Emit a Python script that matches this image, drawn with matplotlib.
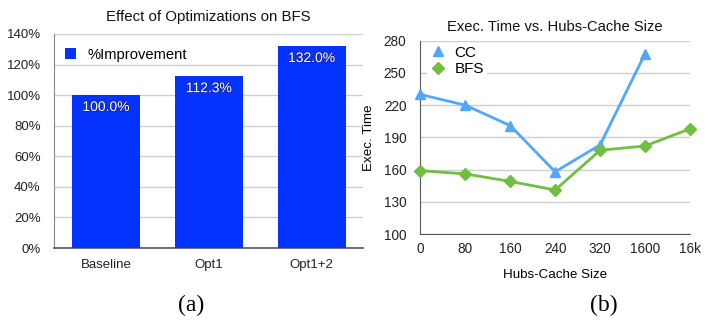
import matplotlib
matplotlib.use("Agg")
import matplotlib.pyplot as plt
import matplotlib.patheffects as pe
from matplotlib.lines import Line2D
import numpy as np

plt.rcParams['font.family'] = ['Liberation Sans', 'DejaVu Sans']

# Panel (a): optimization improvements for BFS
opt_labels = ["Baseline", "Opt1", "Opt1+2"]
improvement = [100.0, 112.3, 132.0]
pct_ticks = [0, 20, 40, 60, 80, 100, 120, 140]

# Panel (b): execution time vs hubs-cache size
cache_labels = ["0", "80", "160", "240", "320", "1600", "16k"]
cc_time = [230, 220, 201, 158, 183, 268]
bfs_time = [159, 156, 149, 141, 178, 182, 198]
time_ticks = [100, 130, 160, 190, 220, 250, 280]

BAR_BLUE = "#0433ff"
CC_BLUE = "#51a7f9"
BFS_GREEN = "#70bf41"
GRID = "#cfcfcf"
SPINE = "#555555"

fig = plt.figure(figsize=(7.16, 3.21), dpi=100)

# ---- (a) bar chart ----
ax1 = fig.add_axes([0.0761, 0.2274, 0.4309, 0.6667])
x = np.arange(len(opt_labels))
bars = ax1.bar(x, improvement, width=0.66, color=BAR_BLUE, label="%Improvement", zorder=3)
ax1.set_xlim(-0.5, len(opt_labels) - 0.5)
ax1.set_ylim(0, 140)
ax1.set_yticks(pct_ticks)
ax1.set_yticklabels([f"{t}%" for t in pct_ticks])
ax1.set_xticks(x)
ax1.set_xticklabels(opt_labels)
ax1.yaxis.grid(True, color=GRID, linewidth=1.0, zorder=0)
ax1.set_axisbelow(True)
for s in ["top", "right"]:
    ax1.spines[s].set_visible(False)
ax1.spines["left"].set_color("#888888")
ax1.spines["bottom"].set_color(SPINE)
ax1.spines["bottom"].set_linewidth(1.2)
ax1.tick_params(axis="both", length=0, labelsize=9.5, colors="#222222")
ax1.tick_params(axis="x", pad=8)
ax1.tick_params(axis="y", pad=10)
for rect, v in zip(bars, improvement):
    ax1.annotate(f"{v:.1f}%", (rect.get_x() + rect.get_width() / 2, v),
                 xytext=(0, -8.5), textcoords="offset points",
                 ha="center", va="center", color="white", fontsize=10, zorder=4,
                 path_effects=[pe.withStroke(linewidth=1.0, foreground="#10105a", alpha=0.6)])
ax1.set_title("Effect of Optimizations on BFS", fontsize=10.8, pad=9, color="#111111")
ax1.legend(loc="upper left", bbox_to_anchor=(0.0, 0.985), frameon=False,
           handlelength=0.75, handleheight=0.75, handletextpad=0.8,
           fontsize=10.6, borderaxespad=0.3)

# ---- (b) line chart ----
ax2 = fig.add_axes([0.587, 0.271, 0.3767, 0.602])
xc = np.arange(len(cache_labels))
ax2.plot(xc[:len(cc_time)], cc_time, color=CC_BLUE, marker="^", markersize=7,
         linewidth=2, zorder=3, clip_on=False)
ax2.plot(xc, bfs_time, color=BFS_GREEN, marker="D", markersize=6,
         linewidth=2, zorder=3, clip_on=False)
ax2.set_xlim(0, len(cache_labels) - 1)
ax2.set_ylim(100, 280)
ax2.set_yticks(time_ticks)
ax2.set_xticks(xc)
ax2.set_xticklabels(cache_labels)
ax2.yaxis.grid(True, color=GRID, linewidth=1.0, zorder=0)
ax2.set_axisbelow(True)
for s in ["top", "right"]:
    ax2.spines[s].set_visible(False)
ax2.spines["left"].set_color(SPINE)
ax2.spines["bottom"].set_color(SPINE)
ax2.tick_params(axis="both", length=0, labelsize=9.8, colors="#222222")
ax2.tick_params(axis="x", pad=6)
ax2.tick_params(axis="y", pad=10)
ax2.set_xlabel("Hubs-Cache Size", fontsize=9.6, labelpad=9)
ax2.set_ylabel("Exec. Time", fontsize=9.6, labelpad=6)
ax2.set_title("Exec. Time vs. Hubs-Cache Size", fontsize=10.6, pad=7, color="#111111")
handles = [Line2D([], [], color=CC_BLUE, marker="^", markersize=7, linestyle="none"),
           Line2D([], [], color=BFS_GREEN, marker="D", markersize=6, linestyle="none")]
leg2 = ax2.legend(handles, ["CC", "BFS"], loc="upper left", bbox_to_anchor=(0.025, 0.99),
                  frameon=True, fontsize=11, handlelength=1.0, handletextpad=0.6,
                  labelspacing=0.15, borderaxespad=0.0, borderpad=0.2)
leg2.get_frame().set_facecolor("white")
leg2.get_frame().set_edgecolor("none")
leg2.get_frame().set_alpha(1.0)
leg2.set_zorder(5)

# panel captions
fig.text(191 / 716, 1 - 305 / 321, "(a)", family=["Liberation Serif", "DejaVu Serif"],
         fontsize=17, ha="center", va="center")
fig.text(604 / 716, 1 - 305 / 321, "(b)", family=["Liberation Serif", "DejaVu Serif"],
         fontsize=17, ha="center", va="center")

fig.savefig("out.png", dpi=100, facecolor="white")
